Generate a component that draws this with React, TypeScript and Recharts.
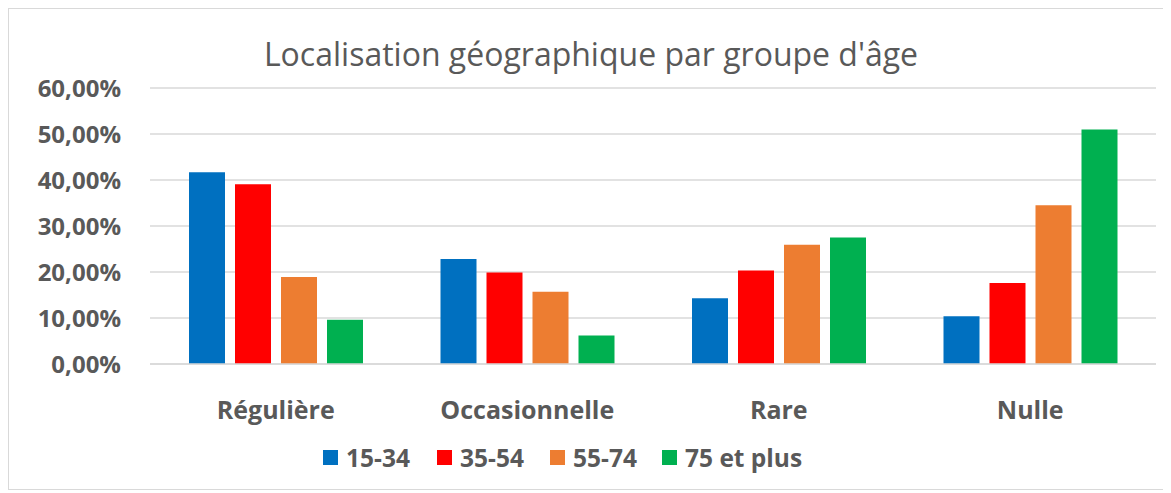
import React from "react";
import {
  BarChart,
  Bar,
  XAxis,
  YAxis,
  CartesianGrid,
  Legend,
} from "recharts";

const categories = ["Régulière", "Occasionnelle", "Rare", "Nulle"];
const age15_34 = [0.417, 0.228, 0.143, 0.104];
const age35_54 = [0.391, 0.199, 0.203, 0.176];
const age55_74 = [0.189, 0.157, 0.259, 0.345];
const age75plus = [0.096, 0.062, 0.275, 0.51];
const yTicks = [0, 0.1, 0.2, 0.3, 0.4, 0.5, 0.6];

const series = [
  { key: "a", name: "15-34", color: "#0070C0", values: age15_34 },
  { key: "b", name: "35-54", color: "#FF0000", values: age35_54 },
  { key: "c", name: "55-74", color: "#ED7D31", values: age55_74 },
  { key: "d", name: "75 et plus", color: "#00B050", values: age75plus },
];

const data = categories.map((name, i) => {
  const row: any = { name };
  series.forEach((s) => (row[s.key] = s.values[i]));
  return row;
});

const FONT = "'Open Sans', sans-serif";
const GREY = "#595959";

const fmt = (v: number) => (v * 100).toFixed(2).replace(".", ",") + "%";

const XTick = (props: any) => {
  const { x, y, payload } = props;
  return (
    <text x={x} y={y + 47} textAnchor="middle" fill={GREY} fontSize={25} fontWeight={700} fontFamily={FONT}>
      {payload.value}
    </text>
  );
};

const LegendBox = () => {
  const widths = [114, 113, 112, 150];
  return (
    <div style={{ display: "flex", paddingLeft: 314, height: 30, alignItems: "center" }}>
      {series.map((s, i) => (
        <div key={s.key} style={{ display: "flex", alignItems: "center", width: widths[i] }}>
          <span style={{ width: 15, height: 15, background: s.color, display: "inline-block", marginRight: 8 }} />
          <span style={{ fontFamily: FONT, fontWeight: 700, fontSize: 24.5, color: GREY, whiteSpace: "nowrap" }}>
            {s.name}
          </span>
        </div>
      ))}
    </div>
  );
};

export default function App() {
  return (
    <div style={{ width: 1155, height: 480, border: "1px solid #d9d9d9", background: "#fff" }}>
      <BarChart
        width={1155}
        height={480}
        data={data}
        margin={{ top: 79, right: 8, left: 0, bottom: 17 }}
        barSize={36}
        barGap={10}
      >
        <text x={582} y={57} textAnchor="middle" fill={GREY} fontSize={32} fontFamily={FONT}>
          Localisation géographique par groupe d'âge
        </text>
        <CartesianGrid vertical={false} stroke="#d9d9d9" strokeWidth={1.5} />
        <XAxis
          dataKey="name"
          axisLine={{ stroke: "#d9d9d9", strokeWidth: 1.5 }}
          tickLine={false}
          height={78}
          tick={<XTick />}
        />
        <YAxis
          width={141}
          domain={[0, 0.6]}
          ticks={yTicks}
          axisLine={false}
          tickLine={false}
          tickSize={0}
          tickMargin={29}
          tickFormatter={fmt}
          tick={{ fill: GREY, fontSize: 24, fontWeight: 700, fontFamily: FONT }}
        />
        <Legend verticalAlign="bottom" content={<LegendBox />} />
        {series.map((s) => (
          <Bar key={s.key} dataKey={s.key} name={s.name} fill={s.color} isAnimationActive={false} />
        ))}
      </BarChart>
    </div>
  );
}
